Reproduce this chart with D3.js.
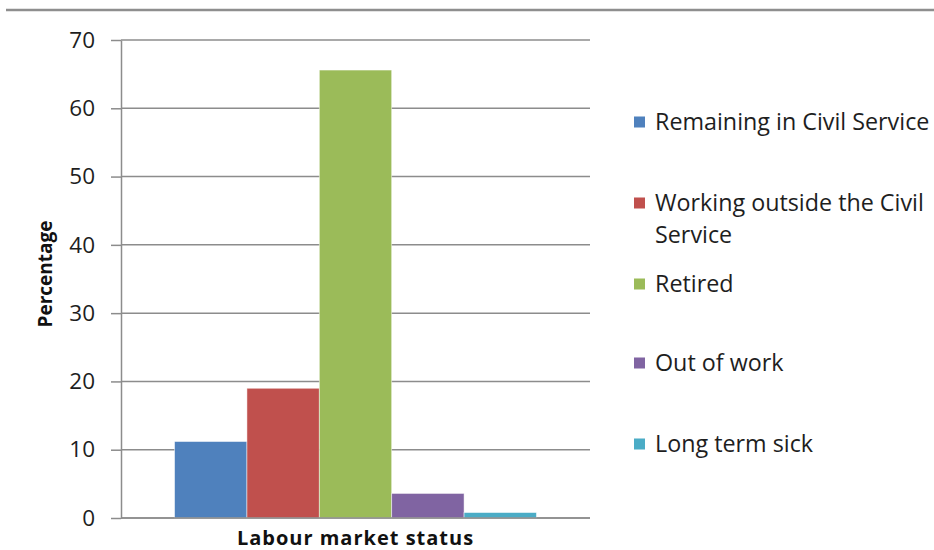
<!DOCTYPE html>
<html>
<head>
<meta charset="utf-8">
<script src="https://cdn.jsdelivr.net/npm/d3@7"></script>
<style>
  html, body { margin: 0; padding: 0; background: #fff; }
  svg { display: block; font-family: "Open Sans", "Noto Sans", sans-serif; }
</style>
</head>
<body>
<svg id="chart" width="934" height="550"></svg>
<script>
// Labour market status of leavers (percentage)
const category = "Labour market status";
const seriesNames = [
  "Remaining in Civil Service",
  "Working outside the Civil Service",
  "Retired",
  "Out of work",
  "Long term sick"
];
const seriesValues = [11.2, 19.0, 65.6, 3.6, 0.8];
const seriesColors = ["#4F81BD", "#C0504D", "#9BBB59", "#8064A2", "#4BACC6"];
const yTicks = [0, 10, 20, 30, 40, 50, 60, 70];
const yTitle = "Percentage";

const svg = d3.select("#chart");
const plot = { left: 121, right: 590, top: 40, bottom: 518 };

// Rule across the top of the figure
svg.append("line")
  .attr("x1", 6).attr("x2", 934)
  .attr("y1", 10).attr("y2", 10)
  .attr("stroke", "#8e8e8e").attr("stroke-width", 2.5);

const y = d3.scaleLinear().domain([0, 70]).range([plot.bottom, plot.top]);
const x0 = d3.scaleBand().domain([category]).range([plot.left, plot.right])
  .paddingInner(0).paddingOuter(0.148);
const x1 = d3.scaleBand().domain(seriesNames).range([0, x0.bandwidth()]).padding(0);

// Horizontal gridlines
svg.append("g").selectAll("line")
  .data(yTicks)
  .join("line")
  .attr("x1", plot.left).attr("x2", plot.right)
  .attr("y1", d => y(d)).attr("y2", d => y(d))
  .attr("stroke", "#8c8c8c").attr("stroke-width", 1.5);

// Value axis
const yAxis = svg.append("g")
  .attr("transform", `translate(${plot.left},0)`)
  .call(d3.axisLeft(y).tickValues(yTicks).tickSize(10).tickPadding(16).tickSizeOuter(0));
yAxis.select(".domain").attr("stroke", "#8c8c8c").attr("stroke-width", 1.5);
yAxis.selectAll(".tick line").attr("stroke", "#8c8c8c").attr("stroke-width", 1.5);
yAxis.selectAll(".tick text")
  .attr("font-family", "Open Sans, sans-serif")
  .attr("font-size", 22.5)
  .attr("fill", "#1e1e1e");

// Bars
svg.append("g").selectAll("rect")
  .data(seriesValues.map((v, i) => ({ name: seriesNames[i], value: v, color: seriesColors[i] })))
  .join("rect")
  .attr("x", d => x0(category) + x1(d.name))
  .attr("width", x1.bandwidth())
  .attr("y", d => y(d.value))
  .attr("height", d => y(0) - y(d.value))
  .attr("fill", d => d.color)
  .attr("stroke", "rgba(255,255,255,0.6)")
  .attr("stroke-width", 0.8);

// Baseline drawn over the bar bottoms
svg.append("line")
  .attr("x1", plot.left).attr("x2", plot.right)
  .attr("y1", y(0)).attr("y2", y(0))
  .attr("stroke", "#8c8c8c").attr("stroke-width", 1.5);

// Axis titles
svg.append("text")
  .attr("x", x0(category) + x0.bandwidth() / 2)
  .attr("y", 545)
  .attr("text-anchor", "middle")
  .attr("font-size", 20)
  .attr("font-weight", "bold")
  .attr("letter-spacing", 1)
  .attr("fill", "#111")
  .text(category);

svg.append("text")
  .attr("transform", `translate(52,274) rotate(-90)`)
  .attr("text-anchor", "middle")
  .attr("font-size", 19)
  .attr("font-weight", "bold")
  .attr("fill", "#111")
  .text(yTitle);

// Legend
const legendTop = [122, 203, 284, 363, 444];
const legend = svg.append("g");
const items = legend.selectAll("g")
  .data(seriesNames)
  .join("g")
  .attr("transform", (d, i) => `translate(634,${legendTop[i]})`);

items.append("rect")
  .attr("x", 0).attr("y", -5.5)
  .attr("width", 11).attr("height", 11)
  .attr("fill", (d, i) => seriesColors[i]);

items.append("text")
  .attr("x", 21)
  .attr("y", 0)
  .attr("dy", "0.35em")
  .attr("font-size", 23.3)
  .attr("fill", "#1e1e1e")
  .each(function (d) {
    // wrap long names onto a second line
    const el = d3.select(this);
    const maxW = 290;
    const words = d.split(" ");
    let line = [];
    let tspan = el.append("tspan").attr("x", 21);
    for (const w of words) {
      line.push(w);
      tspan.text(line.join(" "));
      if (tspan.node().getComputedTextLength() > maxW && line.length > 1) {
        line.pop();
        tspan.text(line.join(" "));
        line = [w];
        tspan = el.append("tspan").attr("x", 21).attr("dy", 32).text(w);
      }
    }
  });
</script>
</body>
</html>
